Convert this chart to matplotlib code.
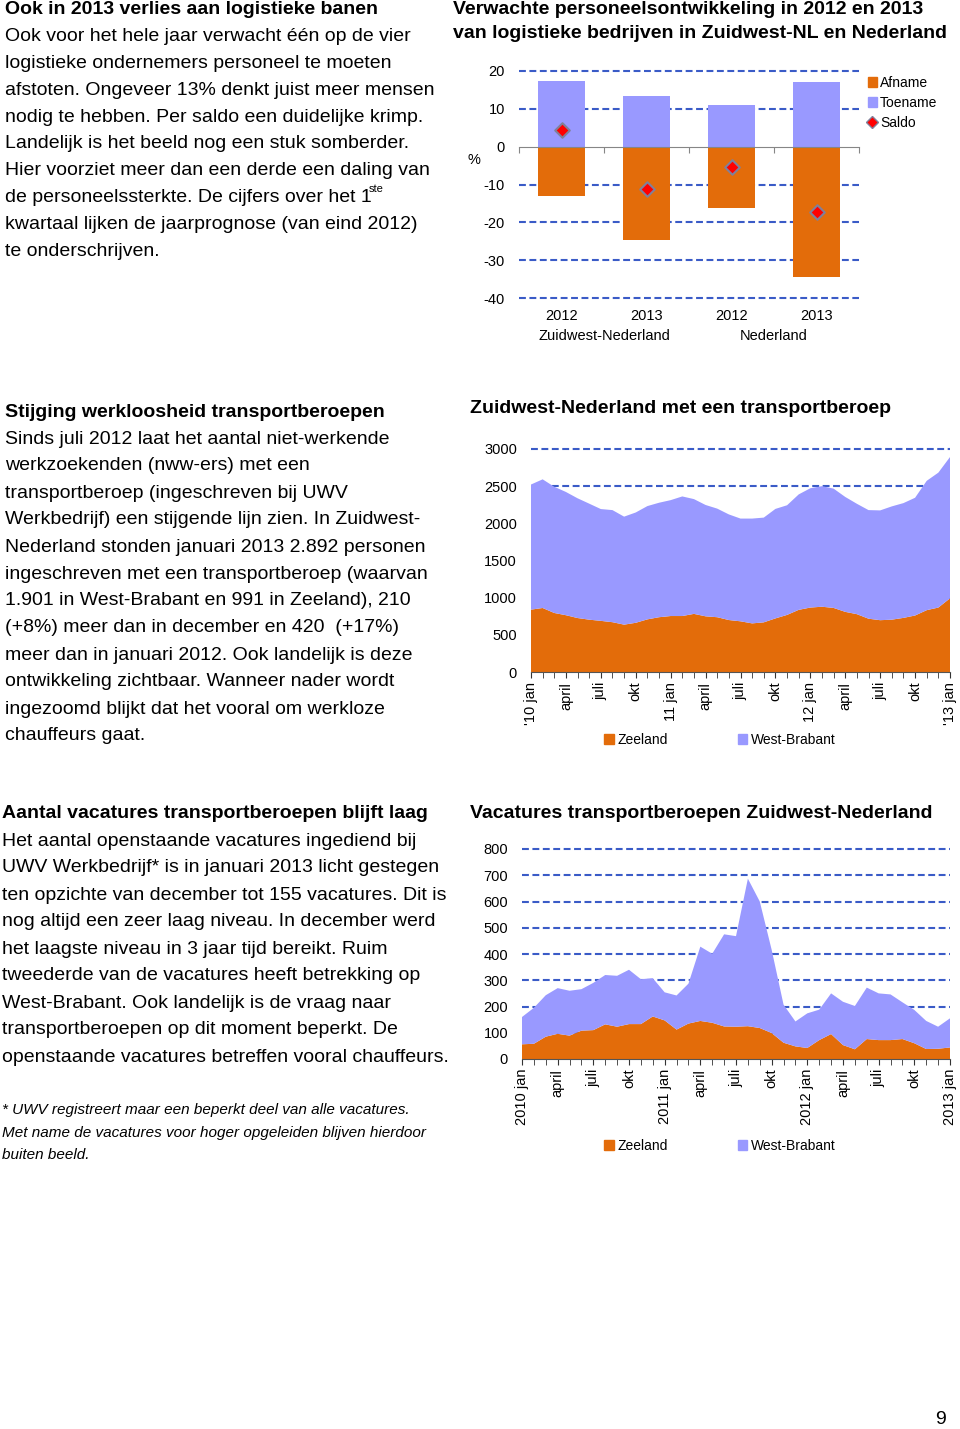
import numpy as np
import matplotlib
matplotlib.use('Agg')
import matplotlib.pyplot as plt
from matplotlib.patches import Patch
from matplotlib.lines import Line2D

plt.rcParams['font.family'] = ['Liberation Sans', 'DejaVu Sans']
plt.rcParams['axes.unicode_minus'] = False

W, H = 960, 1429
ORANJE = '#E36C0A'
LILA = '#9999FF'
GRID = '#3A5BC7'

# --- data grafiek 1: verwachte personeelsontwikkeling (%)
categorie = ['2012', '2013', '2012', '2013']
groepen = ['Zuidwest-Nederland', 'Nederland']
toename = [17.4, 13.3, 10.9, 17.2]
afname = [-13.1, -24.6, -16.3, -34.4]
saldo = [4.3, -11.3, -5.4, -17.2]

# --- data grafiek 2: nww-ers met transportberoep, jan 2010 - jan 2013
nww_zeeland = [839, 861, 794, 764, 726, 704, 688, 670, 637, 662, 708, 737, 753,
               753, 782, 749, 737, 699, 682, 654, 668, 721, 768, 836, 867,
               878, 862, 809, 778, 717, 697, 704, 728, 760, 832, 867, 991]
nww_westbrabant = [1683, 1731, 1698, 1658, 1611, 1561, 1504, 1508, 1453, 1484,
                   1524, 1540, 1559, 1609, 1544, 1498, 1461, 1421, 1382, 1410,
                   1409, 1473, 1475, 1553, 1605, 1622, 1605, 1546, 1485, 1461,
                   1477, 1524, 1544, 1584, 1740, 1815, 1901]
nww_labels = ["'10 jan", 'april', 'juli', 'okt', '11 jan', 'april', 'juli', 'okt',
              '12 jan', 'april', 'juli', 'okt', "'13 jan"]

# --- data grafiek 3: vacatures transportberoepen, jan 2010 - jan 2013
vac_zeeland = [56, 58, 85, 96, 89, 108, 110, 132, 123, 133, 133, 162, 147,
               112, 135, 145, 138, 124, 123, 125, 118, 99, 62, 48, 42,
               72, 95, 53, 37, 76, 72, 72, 76, 60, 38, 39, 44]
vac_westbrabant = [104, 137, 158, 174, 171, 158, 180, 188, 194, 207, 171, 146,
                   107, 130, 152, 283, 263, 351, 345, 562, 482, 317, 145, 95,
                   132, 116, 155, 165, 165, 196, 178, 174, 140, 127, 107, 84, 111]
vac_labels = ['2010 jan', 'april', 'juli', 'okt', '2011 jan', 'april', 'juli', 'okt',
              '2012 jan', 'april', 'juli', 'okt', '2013 jan']

# --- teksten
tekst1_kop = 'Ook in 2013 verlies aan logistieke banen'
tekst1 = ['Ook voor het hele jaar verwacht één op de vier',
          'logistieke ondernemers personeel te moeten',
          'afstoten. Ongeveer 13% denkt juist meer mensen',
          'nodig te hebben. Per saldo een duidelijke krimp.',
          'Landelijk is het beeld nog een stuk somberder.',
          'Hier voorziet meer dan een derde een daling van',
          'de personeelssterkte. De cijfers over het 1',
          'kwartaal lijken de jaarprognose (van eind 2012)',
          'te onderschrijven.']
tekst2_kop = 'Stijging werkloosheid transportberoepen'
tekst2 = ['Sinds juli 2012 laat het aantal niet-werkende',
          'werkzoekenden (nww-ers) met een',
          'transportberoep (ingeschreven bij UWV',
          'Werkbedrijf) een stijgende lijn zien. In Zuidwest-',
          'Nederland stonden januari 2013 2.892 personen',
          'ingeschreven met een transportberoep (waarvan',
          '1.901 in West-Brabant en 991 in Zeeland), 210',
          '(+8%) meer dan in december en 420  (+17%)',
          'meer dan in januari 2012. Ook landelijk is deze',
          'ontwikkeling zichtbaar. Wanneer nader wordt',
          'ingezoomd blijkt dat het vooral om werkloze',
          'chauffeurs gaat.']
tekst3_kop = 'Aantal vacatures transportberoepen blijft laag'
tekst3 = ['Het aantal openstaande vacatures ingediend bij',
          'UWV Werkbedrijf* is in januari 2013 licht gestegen',
          'ten opzichte van december tot 155 vacatures. Dit is',
          'nog altijd een zeer laag niveau. In december werd',
          'het laagste niveau in 3 jaar tijd bereikt. Ruim',
          'tweederde van de vacatures heeft betrekking op',
          'West-Brabant. Ook landelijk is de vraag naar',
          'transportberoepen op dit moment beperkt. De',
          'openstaande vacatures betreffen vooral chauffeurs.']
voetnoot = ['* UWV registreert maar een beperkt deel van alle vacatures.',
            'Met name de vacatures voor hoger opgeleiden blijven hierdoor',
            'buiten beeld.']

fig = plt.figure(figsize=(W / 100, H / 100), dpi=100)


def px_axes(x0, y0, x1, y1):
    return fig.add_axes([x0 / W, 1 - y1 / H, (x1 - x0) / W, (y1 - y0) / H])


def txt(x, y, s, **kw):
    kw.setdefault('fontsize', 14)
    fig.text(x / W, 1 - y / H, s, va='center', ha='left', **kw)


def blok(x, y, kop, regels, stap=27):
    txt(x, y, kop, fontweight='bold')
    for i, r in enumerate(regels):
        txt(x, y + stap * (i + 1), r)


blok(5, 10, tekst1_kop, tekst1, stap=26.8)
txt(369, 189, 'ste', fontsize=8)
blok(5, 412, tekst2_kop, tekst2)
blok(2, 814, tekst3_kop, tekst3)
for i, r in enumerate(voetnoot):
    txt(2, 1110 + 22.5 * i, r, fontsize=11, style='italic')
txt(935, 1420, '9', fontsize=14)

# titels grafieken
txt(453, 9, 'Verwachte personeelsontwikkeling in 2012 en 2013', fontweight='bold')
txt(453, 33, 'van logistieke bedrijven in Zuidwest-NL en Nederland', fontweight='bold')
txt(470, 408, 'Zuidwest-Nederland met een transportberoep', fontweight='bold')
txt(470, 814, 'Vacatures transportberoepen Zuidwest-Nederland', fontweight='bold')


def grid(ax, waarden):
    for v in waarden:
        ax.axhline(v, color=GRID, linestyle=(0, (3.3, 1.7)), linewidth=1.5,
                   zorder=0, clip_on=False)


# ---------- grafiek 1
ax1 = px_axes(519, 71, 859, 298)
x = np.arange(len(categorie))
ax1.bar(x, toename, width=0.55, color=LILA, zorder=2)
ax1.bar(x, afname, width=0.55, color=ORANJE, zorder=2)
ax1.scatter(x, saldo, marker='D', s=55, color='#FF0000', edgecolor='#80809A',
            linewidth=1.5, zorder=3)
ax1.set_xlim(-0.5, 3.5)
ax1.set_ylim(-40, 20)
yt = [20, 10, 0, -10, -20, -30, -40]
ax1.set_yticks(yt)
grid(ax1, [v for v in yt if v != 0])
for s in ['left', 'top', 'right']:
    ax1.spines[s].set_visible(False)
ax1.spines['bottom'].set_position(('data', 0))
ax1.spines['bottom'].set_color('#868686')
ax1.set_xticks(np.arange(-0.5, 4, 1))
ax1.set_xticklabels([])
ax1.tick_params(axis='x', length=4, color='#868686', direction='out')
ax1.tick_params(axis='y', length=0, pad=10, labelsize=10.5)
for i, c in enumerate(categorie):
    ax1.annotate(c, xy=(i, 0), xycoords=('data', 'axes fraction'), xytext=(0, -13),
                 textcoords='offset points', ha='center', va='center', fontsize=10.5)
for g, gn in enumerate(groepen):
    ax1.annotate(gn, xy=(2 * g + 0.5, 0), xycoords=('data', 'axes fraction'),
                 xytext=(0, -27), textcoords='offset points', ha='center',
                 va='center', fontsize=10.5)
txt(467, 160, '%', fontsize=10.5)
fig.legend(handles=[Patch(color=ORANJE, label='Afname'),
                    Patch(color=LILA, label='Toename'),
                    Line2D([], [], marker='D', linestyle='none', markersize=6,
                           markerfacecolor='#FF0000', markeredgecolor='#80809A',
                           label='Saldo')],
           loc='upper left', bbox_to_anchor=(862 / W, 1 - 70 / H), frameon=False,
           fontsize=10, handlelength=0.7, handleheight=0.7, handletextpad=0.2,
           labelspacing=0.45, borderaxespad=0)


def maand_grafiek(ax, zeeland, westbrabant, ymax, stap, labels, legend_y):
    m = np.arange(len(zeeland))
    ax.stackplot(m, zeeland, westbrabant, colors=[ORANJE, LILA], zorder=2)
    ax.set_xlim(0, len(zeeland) - 1)
    ax.set_ylim(0, ymax)
    yt = np.arange(0, ymax + 1, stap)
    ax.set_yticks(yt)
    grid(ax, yt[1:])
    for s in ['left', 'top', 'right']:
        ax.spines[s].set_visible(False)
    ax.spines['bottom'].set_color('#555555')
    ax.set_xticks(m[::3])
    ax.set_xticklabels(labels, rotation=90)
    ax.set_xticks(m, minor=True)
    ax.tick_params(axis='x', which='both', length=4, color='#333333', labelsize=10.5, pad=3)
    ax.tick_params(axis='y', length=0, pad=10, labelsize=10.5)
    ax.legend(handles=[Patch(color=ORANJE, label='Zeeland'),
                       Patch(color=LILA, label='West-Brabant')],
              loc='center', bbox_to_anchor=(720 / W, 1 - legend_y / H),
              bbox_transform=fig.transFigure, ncol=2, frameon=False, fontsize=10,
              handlelength=0.7, handleheight=0.7, handletextpad=0.3,
              columnspacing=5)


# ---------- grafiek 2
ax2 = px_axes(531, 449, 950, 672)
maand_grafiek(ax2, nww_zeeland, nww_westbrabant, 3000, 500, nww_labels, 740)

# ---------- grafiek 3
ax3 = px_axes(522, 849, 950, 1059)
maand_grafiek(ax3, vac_zeeland, vac_westbrabant, 800, 100, vac_labels, 1146)

fig.savefig('out.png', dpi=100)
